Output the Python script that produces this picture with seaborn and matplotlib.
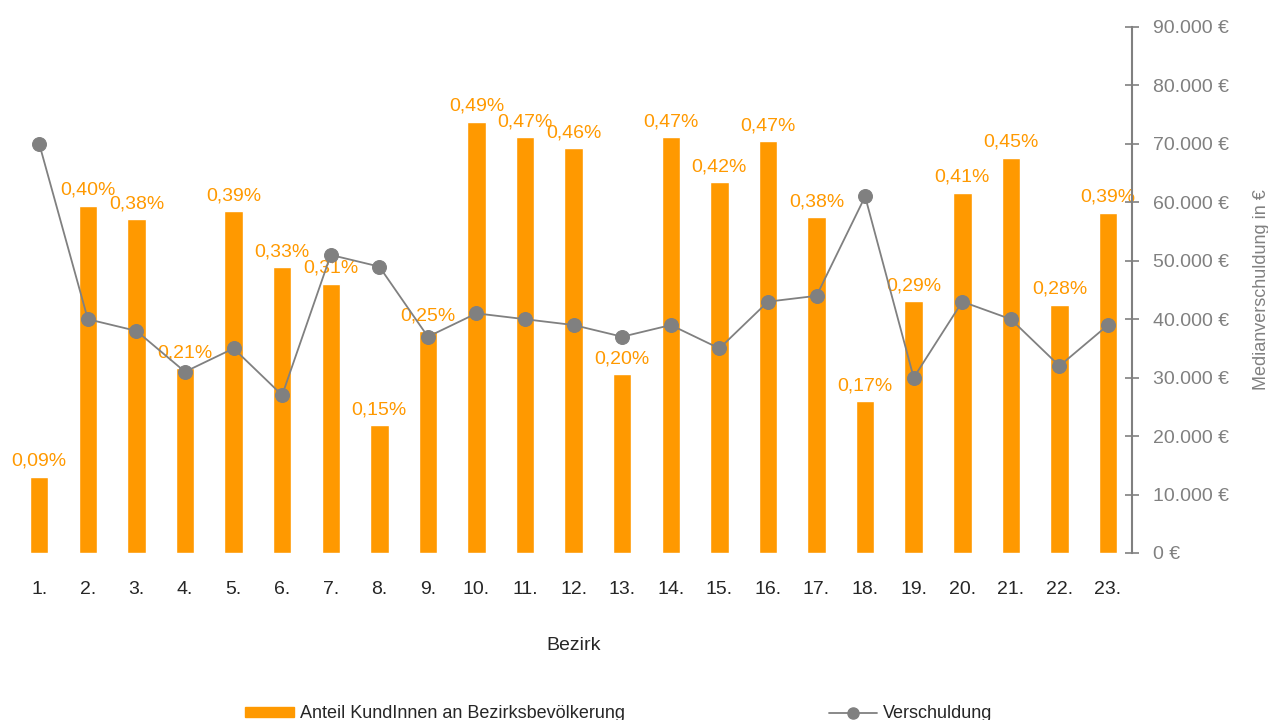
import numpy as np
import pandas as pd
import seaborn as sns
import matplotlib.pyplot as plt
from matplotlib.lines import Line2D
from matplotlib.patches import Patch

# Daten
bezirke = [f"{i}." for i in range(1, 24)]
anteil = [0.087, 0.396, 0.381, 0.211, 0.390, 0.326, 0.307, 0.146, 0.253, 0.492,
          0.474, 0.462, 0.204, 0.474, 0.423, 0.470, 0.383, 0.173, 0.287, 0.411,
          0.451, 0.283, 0.388]
verschuldung = [70000, 40000, 38000, 31000, 35000, 27000, 51000, 49000, 37000, 41000,
                40000, 39000, 37000, 39000, 35000, 43000, 44000, 61000, 30000, 43000,
                40000, 32000, 39000]

df = pd.DataFrame({"Bezirk": bezirke, "Anteil": anteil, "Verschuldung": verschuldung})

ORANGE = "#FF9900"
GRAU = "#808080"

sns.set_style("white")
plt.rcParams['font.family'] = ['Liberation Sans', 'DejaVu Sans']

fig = plt.figure(figsize=(12.68, 7.2), dpi=100)
ax = fig.add_axes([0.0118, 0.232, 0.8812, 0.7305])

sns.barplot(data=df, x="Bezirk", y="Anteil", color=ORANGE, width=0.38,
            saturation=1, ax=ax)
ax.set_ylim(0, 0.6)
ax.set_xlim(-0.5, 22.5)
for c in ax.containers:
    ax.bar_label(c, labels=[f"{v:.2f}%".replace(".", ",") for v in anteil],
                 padding=5, color=ORANGE, fontsize=14)
ax.set_yticks([])
ax.set_ylabel("")
ax.set_xlabel("Bezirk", fontsize=14, labelpad=28)
ax.tick_params(axis="x", length=0, labelsize=14, pad=20)
for s in ax.spines.values():
    s.set_visible(False)

ax2 = ax.twinx()
sns.lineplot(data=df, x="Bezirk", y="Verschuldung", color=GRAU, marker="o",
             markersize=10, markeredgecolor=GRAU, linewidth=1.3, sort=False, ax=ax2)
ax2.set_ylim(0, 90000)
ax2.set_yticks(np.arange(0, 90001, 10000))
ax2.set_yticklabels([f"{v:,.0f} €".replace(",", ".") for v in np.arange(0, 90001, 10000)])
ax2.tick_params(axis="y", direction="inout", length=10, color=GRAU, width=1.2,
                labelcolor=GRAU, labelsize=14, pad=10)
ax2.set_ylabel("Medianverschuldung in €", color=GRAU, fontsize=13, labelpad=17)
for k in ["top", "left", "bottom"]:
    ax2.spines[k].set_visible(False)
ax2.spines["right"].set_color(GRAU)
ax2.spines["right"].set_linewidth(1.5)

handles = [Patch(color=ORANGE, label="Anteil KundInnen an Bezirksbevölkerung"),
           Line2D([0], [0], color=GRAU, marker="o", markersize=8, linewidth=1.3,
                  label="Verschuldung")]
fig.legend(handles=handles, loc="lower center", bbox_to_anchor=(0.488, -0.026), ncol=2,
           frameon=False, fontsize=13, columnspacing=11.3, handlelength=2.7,
           handleheight=0.5, handletextpad=0.3)

fig.savefig("out.png", dpi=100)
